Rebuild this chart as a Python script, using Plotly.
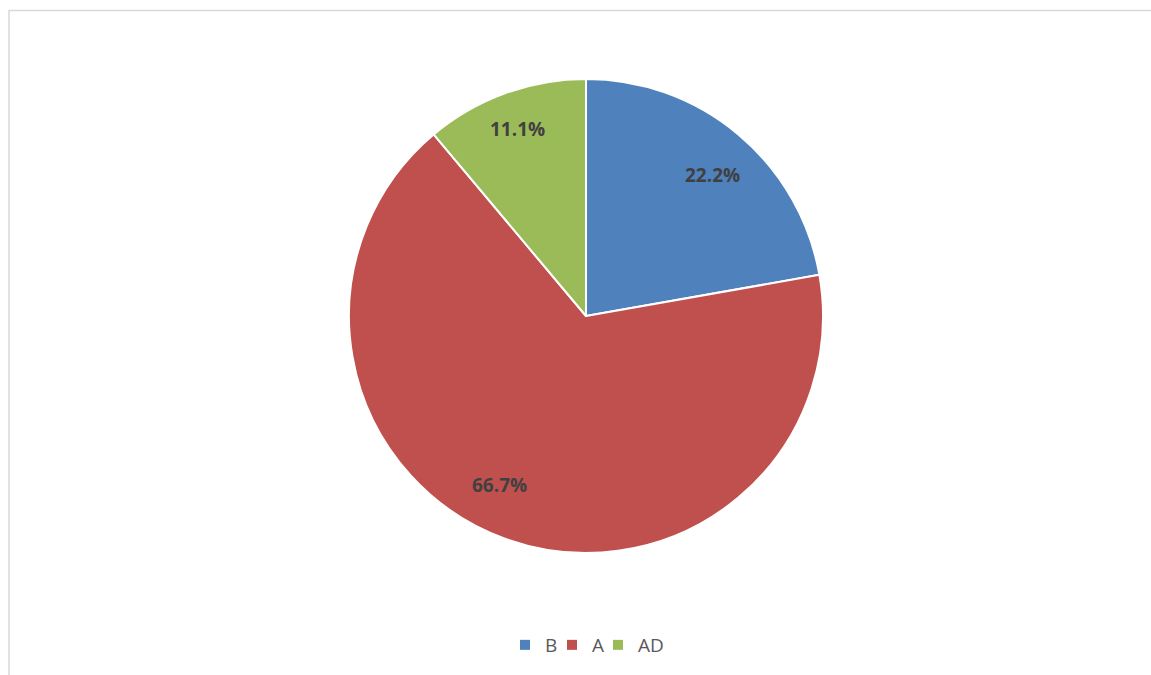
import math
import plotly.graph_objects as go

# Category shares (counts out of 9)
labels = ["B", "A", "AD"]
values = [2, 6, 1]
colors = ["#4F81BD", "#C0504D", "#9BBB59"]

W, H = 1151, 675
# pie placement in pixels
cx, cy, R = 586, 316, 237

# best-fit label placement: (radius fraction, angle tweak in degrees) per slice
label_fit = [(0.80, 2), (0.80, 7), (0.84, 0)]

# left edge (px) of each legend entry along the bottom row
legend_x = [505, 552, 598]
legend_y = 645

fig = go.Figure()
fig.add_trace(go.Pie(
    labels=labels,
    values=values,
    sort=False,
    direction="clockwise",
    rotation=0,
    marker=dict(colors=colors, line=dict(color="white", width=2)),
    textinfo="none",
    hoverinfo="label+percent",
    showlegend=False,
    domain=dict(x=[(cx - R) / W, (cx + R) / W], y=[1 - (cy + R) / H, 1 - (cy - R) / H]),
))

# Legend keys: one compact legend per category so entries sit close together
legend_names = ["legend", "legend2", "legend3"]
legend_layout = {}
for lab, col, lg, lx in zip(labels, colors, legend_names, legend_x):
    fig.add_trace(go.Scatter(
        x=[None], y=[None], mode="markers", name=lab, legend=lg,
        marker=dict(symbol="square", size=10, color=col),
        hoverinfo="skip",
    ))
    legend_layout[lg] = dict(
        x=lx / W, xanchor="left", y=1 - legend_y / H, yanchor="middle",
        orientation="h", bgcolor="rgba(0,0,0,0)",
        font=dict(family="Open Sans", size=19, color="#595959"),
    )

# Percentage labels placed along each slice's bisector
total = sum(values)
start = 0.0
annotations = []
for v, (rf, tweak) in zip(values, label_fit):
    frac = v / total
    mid = (start + frac / 2) * 2 * math.pi + math.radians(tweak)
    start += frac
    r = rf * R
    px = cx + r * math.sin(mid)
    py = cy - r * math.cos(mid)
    annotations.append(dict(
        x=px / W, y=1 - py / H, xref="paper", yref="paper",
        xanchor="center", yanchor="middle",
        text=f"<b>{frac * 100:.1f}%</b>", showarrow=False,
        font=dict(family="Open Sans", size=19, color="#404040"),
    ))

fig.update_layout(
    width=W, height=H,
    margin=dict(l=0, r=0, t=0, b=0),
    paper_bgcolor="white",
    plot_bgcolor="white",
    showlegend=True,
    xaxis=dict(visible=False),
    yaxis=dict(visible=False),
    annotations=annotations,
    shapes=[dict(
        type="rect", xref="paper", yref="paper",
        x0=9 / W, x1=1.02, y0=-0.02, y1=1 - 10.5 / H,
        line=dict(color="#D9D9D9", width=1.5), fillcolor="rgba(0,0,0,0)",
    )],
    **legend_layout,
)

fig.write_html("out.html")
